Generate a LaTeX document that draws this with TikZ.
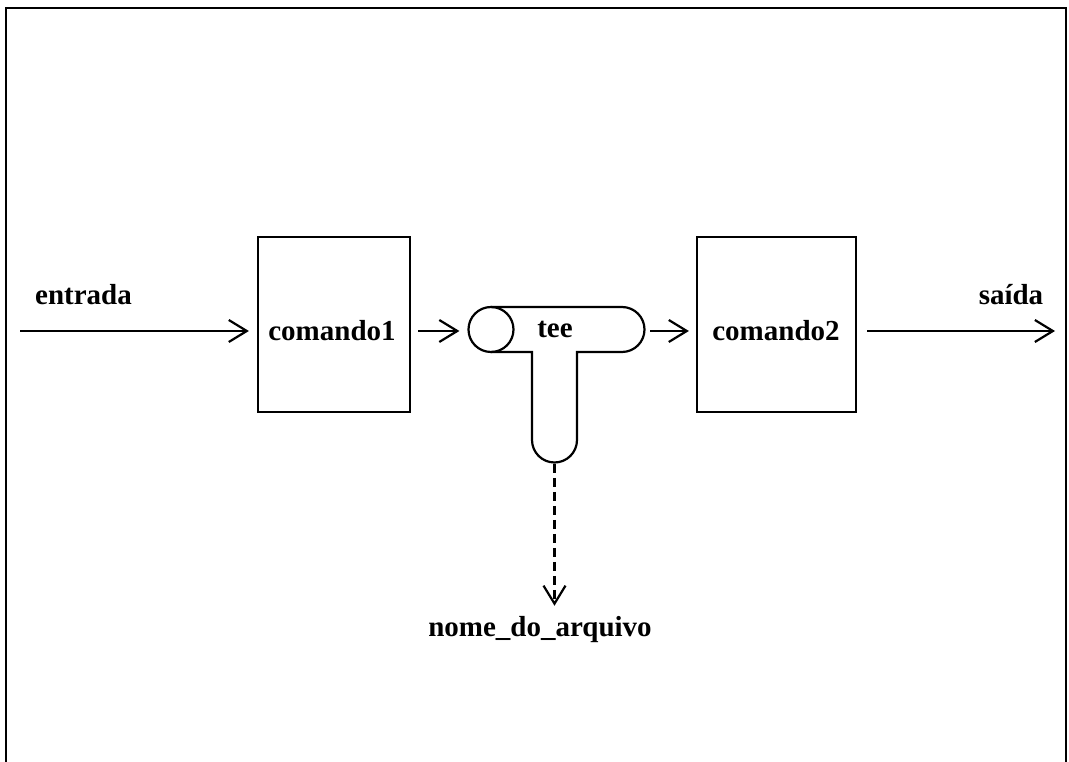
\documentclass[tikz,border=0pt]{standalone}
\usepackage{fontspec}
\setmainfont{Liberation Serif}
\usetikzlibrary{arrows.meta}
\begin{document}
\begin{tikzpicture}[x=1pt,y=1pt,
  line width=2.2pt,
  lbl/.style={font=\fontsize{29}{34}\selectfont\bfseries, inner sep=0pt},
  cmdbox/.style={draw, minimum height=175pt, inner sep=0pt},
  flow/.style={-{Straight Barb[length=18pt,width=22pt,line width=2.2pt]}},
]
\useasboundingbox (0,0) rectangle (1069,761);
% outer frame (bottom edge runs below the page)
\draw[line width=2.4pt] (6,-20) -- (6,753) -- (1066,753) -- (1066,-20);

% command boxes
\node[cmdbox, minimum width=152pt] (c1) at (334,436.5) {};
\node[lbl] at (332,430) {comando1};
\node[cmdbox, minimum width=159pt] (c2) at (776.5,436.5) {};
\node[lbl] at (776,430) {comando2};

% tee fitting: input circle plus T-shaped pipe
\node[draw, circle, minimum size=45pt, inner sep=0pt] (teein) at (491,431.5) {};
\draw (491,454) -- (622,454) arc[start angle=90,end angle=-90,radius=22.5]
      -- (577,409) -- (577,321) arc[start angle=0,end angle=-180,radius=22.5]
      -- (532,409) -- (491,409);
\node[lbl] (tee) at (555,432) {tee};
\coordinate (teeout) at (650,430);
\coordinate (teebot) at (554.5,297);

% labels and free ends
\node[lbl] (ent) at (83.5,466) {entrada};
\node[lbl] (sai) at (1011,466) {saída};
\coordinate (in) at (20,430);
\coordinate (out) at (1055,430);
\node[lbl] (file) at (540,131) {nome\_do\_arquivo};

% connectors
\draw[flow, shorten >=8pt] (in) -- (in -| c1.west);
\draw[flow, shorten <=7pt, shorten >=8pt] (c1.east |- in) -- (teein.west |- in);
\draw[flow, shorten >=7pt] (teeout) -- (c2.west |- teeout);
\draw[flow, shorten <=10pt] (c2.east |- out) -- (out);
\draw[flow, dash pattern=on 9pt off 5pt, shorten >=10pt] (teebot) -- (teebot |- file.north);
\end{tikzpicture}
\end{document}
